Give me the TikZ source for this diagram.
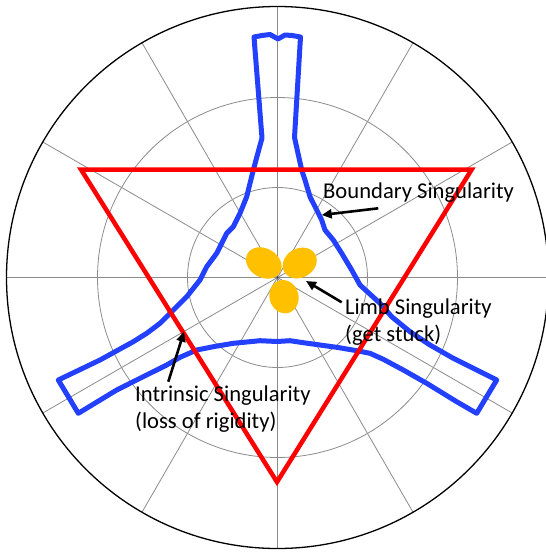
\documentclass[tikz,border=0pt]{standalone}
\usepackage{fontspec}
\setmainfont{Carlito}
\usetikzlibrary{arrows.meta}
\definecolor{wsblue}{RGB}{35,64,255}
\definecolor{petal}{RGB}{255,192,0}
\definecolor{gridgray}{RGB}{140,140,140}
\begin{document}
\begin{tikzpicture}[x=1pt,y=-1pt,
  gridline/.style={draw=gridgray, line width=0.8pt},
  rim/.style={draw=black, line width=1.3pt},
  workspace/.style={draw=wsblue, line width=5pt, line join=round},
  tri/.style={draw=red, line width=4.5pt, line join=miter},
  lobe/.style={fill=petal},
  callout/.style={draw=black, line width=2.6pt, -{Triangle[length=10pt,width=9pt]}},
  lbl/.style={font=\fontsize{22.6}{27}\selectfont, anchor=base west, inner sep=0pt, text=black}
]
\fill[white] (0,0) rectangle (546,552);
\useasboundingbox (0,0) rectangle (546,552);
\coordinate (O) at (277.5,277.5);
% grid
\draw[gridline] (O) circle (90pt);
\draw[gridline] (O) circle (180pt);
\foreach \a in {0,30,...,330} \draw[gridline] (O) -- ++(\a:271pt);
\draw[rim] (O) circle (271pt);
% workspace boundary
\draw[workspace] (254,37) -- (262,35.5) -- (270,34.5) -- (278,39) -- (285,35) -- (292,35.5) -- (300.5,37)
  -- (294.5,137.5) -- (301.7,170) -- (305,180) -- (310,196.7) -- (316.7,210) -- (321.7,220) -- (325,230)
  -- (333.3,240) -- (341.7,253.3) -- (351.7,270) -- (360,285) -- (380,303.3) -- (391.7,316.7)
  -- (410,331.7) -- (430,345) -- (453.3,358.3) -- (496.7,380)
  -- (476.7,413.3) -- (456.7,401.7) -- (426.7,383.3) -- (403.3,370) -- (383.3,359.3) -- (370,353.3)
  -- (356.7,350.7) -- (336.7,347.3) -- (320,345) -- (303.3,342.7) -- (290,340.7) -- (277,341.5)
  -- (260,340.7) -- (233.3,343.3) -- (213.3,346.7) -- (196.7,350) -- (180,357.3) -- (166.7,365)
  -- (140,378.3) -- (116.7,390) -- (78.3,413.3)
  -- (58.3,380) -- (100,360) -- (133.3,341.7) -- (146.7,333.3) -- (160,323.3) -- (173.3,310)
  -- (186.7,296.7) -- (200,280) -- (206.7,266.7) -- (216.7,253.3) -- (226.7,233.3) -- (233.3,226.7)
  -- (240,213.3) -- (246.7,196.7) -- (253.3,170) -- (262,138) -- cycle;
% triangle
\draw[tri] (81,169.5) -- (471.7,169.5) -- (277,482) -- cycle;
% petals
\fill[lobe, rotate around={-30:(263.8,263)}] (263.8,263) ellipse (18.8pt and 14.5pt);
\fill[lobe, rotate around={30:(299.7,263)}] (299.7,263) ellipse (17.8pt and 14.5pt);
\fill[lobe, rotate around={-75:(284,296.7)}] (284,296.7) ellipse (16.8pt and 14.5pt);
\fill[black!75] (O) circle (1.2pt);
% labels
\node[lbl] (bnd) at (323,198.3) {Boundary Singularity};
\node[lbl] (limb1) at (345,314.3) {Limb Singularity};
\node[lbl] (limb2) at (345,341) {(get stuck)};
\node[lbl] (intr1) at (135,401.7) {Intrinsic Singularity};
\node[lbl] (intr2) at (135,428) {(loss of rigidity)};
% callouts
\coordinate (bndtail) at (378.3,208.3);
\coordinate (bndtip) at (321.7,215);
\coordinate (limbtail) at (341.7,302.3);
\coordinate (limbtip) at (306,281);
\coordinate (intrtail) at (168.3,381.7);
\coordinate (intrtip) at (184,331.7);
\draw[callout] (bndtail) -- (bndtip);
\draw[callout] (limbtail) -- (limbtip);
\draw[callout] (intrtail) -- (intrtip);
\end{tikzpicture}
\end{document}
